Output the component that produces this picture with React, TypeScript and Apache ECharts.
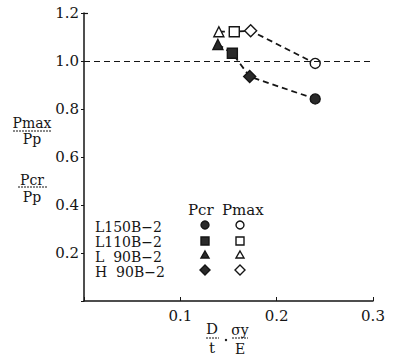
import React, { useEffect, useRef } from "react";
import * as echarts from "echarts";

const symbols = ["triangle", "rect", "diamond", "circle"];
const specimens = ["L150B−2", "L110B−2", "L  90B−2", "H  90B−2"];
const legendOrder = [3, 1, 0, 2]; // legend rows: circle, square, triangle, diamond
const xPmax = [0.14, 0.156, 0.173, 0.24];
const yPmax = [1.122, 1.122, 1.126, 0.99];
const xPcr = [0.139, 0.154, 0.172, 0.24];
const yPcr = [1.069, 1.032, 0.935, 0.842];
const yTicks = [0, 0.2, 0.4, 0.6, 0.8, 1.0, 1.2];
const xTicks = [0, 0.1, 0.2, 0.3];
const refLine = 1.0;

const FONT = "DejaVu Serif";
const INK = "#151515";

function markerGraphic(sym: string, cx: number, cy: number, filled: boolean) {
  const style = {
    fill: filled ? "#2a2a2a" : "#fff",
    stroke: INK,
    lineWidth: 1.4,
  };
  const r = 4;
  if (sym === "circle") return { type: "circle", shape: { cx, cy, r }, style };
  if (sym === "rect")
    return { type: "rect", shape: { x: cx - r, y: cy - r, width: 2 * r, height: 2 * r }, style };
  if (sym === "triangle")
    return {
      type: "polygon",
      shape: { points: [[cx, cy - r], [cx + r, cy + r - 1], [cx - r, cy + r - 1]] },
      style,
    };
  return {
    type: "polygon",
    shape: { points: [[cx, cy - r - 1], [cx + r + 1, cy], [cx, cy + r + 1], [cx - r - 1, cy]] },
    style,
  };
}

export default function App() {
  const ref = useRef<HTMLDivElement>(null);
  useEffect(() => {
    if (!ref.current) return;
    const chart = echarts.init(ref.current, null, { renderer: "svg" });

    const mk = (xs: number[], ys: number[], filled: boolean) =>
      xs.map((x, i) => ({
        value: [x, ys[i]],
        symbol: symbols[i],
        symbolSize: symbols[i] === "diamond" ? 12 : 10,
        itemStyle: { color: filled ? "#2a2a2a" : "#fff", borderColor: INK, borderWidth: 1.4 },
      }));

    const legendRowsText = [227, 242, 257, 272];
    const legendRowsMarker = [225, 241, 255, 270];
    const graphics: any[] = [];
    specimens.forEach((s, i) => {
      graphics.push({
        type: "text",
        x: 95,
        y: legendRowsText[i],
        style: {
          text: s,
          font: `14px '${FONT}'`,
          lineHeight: 13,
          fill: INK,
          verticalAlign: "middle",
        },
      });
    });
    legendOrder.forEach((si, i) => {
      graphics.push(markerGraphic(symbols[si], 205, legendRowsMarker[i], true));
      graphics.push(markerGraphic(symbols[si], 240, legendRowsMarker[i], false));
    });
    graphics.push({
      type: "text",
      x: 188,
      y: 210,
      style: { text: "Pcr", font: `15px '${FONT}'`, fill: INK, verticalAlign: "middle", lineHeight: 14 },
    });
    graphics.push({
      type: "text",
      x: 222,
      y: 210,
      style: { text: "Pmax", font: `15px '${FONT}'`, fill: INK, verticalAlign: "middle", lineHeight: 14 },
    });
    // fraction labels
    const frac = (
      num: string,
      den: string,
      cx: number,
      numY: number,
      lineY: number,
      denY: number,
      x1: number,
      x2: number,
      size = 13
    ) => [
      {
        type: "text",
        x: cx,
        y: numY,
        style: { text: num, font: `${size}px '${FONT}'`, fill: INK, align: "center", verticalAlign: "middle", lineHeight: size },
      },
      { type: "line", shape: { x1, y1: lineY, x2, y2: lineY }, style: { stroke: INK, lineWidth: 1, lineDash: [2, 1] } },
      {
        type: "text",
        x: cx,
        y: denY,
        style: { text: den, font: `${size}px '${FONT}'`, fill: INK, align: "center", verticalAlign: "middle", lineHeight: size },
      },
    ];
    graphics.push(...frac("Pmax", "Pp", 32, 123, 131, 139, 13, 52, 14));
    graphics.push(...frac("Pcr", "Pp", 32, 180, 187, 197, 18, 47, 14));
    graphics.push(...frac("D", "t", 212, 329, 338, 348, 206, 219, 15));
    graphics.push({ type: "circle", shape: { cx: 226, cy: 340, r: 1.2 }, style: { fill: INK } });
    graphics.push(...frac("σy", "E", 240, 330, 338, 349, 232, 248, 14));
    // hook at top of y-axis
    graphics.push({ type: "line", shape: { x1: 84, y1: 13.5, x2: 88, y2: 13.5 }, style: { stroke: INK, lineWidth: 1.2 } });

    chart.setOption({
      animation: false,
      backgroundColor: "#fff",
      grid: { left: 84, right: 22, top: 13, bottom: 56 },
      xAxis: {
        type: "value",
        min: xTicks[0],
        max: xTicks[xTicks.length - 1],
        interval: 0.1,
        axisLine: { lineStyle: { color: INK, width: 1.5 } },
        axisTick: { inside: true, length: 4, lineStyle: { color: INK } },
        splitLine: { show: false },
        axisLabel: {
          color: INK,
          fontFamily: FONT,
          fontSize: 15,
          margin: 7,
          formatter: (v: number) => (Math.abs(v) < 1e-9 ? "" : v.toFixed(1)),
        },
      },
      yAxis: {
        type: "value",
        min: yTicks[0],
        max: yTicks[yTicks.length - 1],
        interval: 0.2,
        axisLine: { show: true, lineStyle: { color: INK, width: 1.5 } },
        axisTick: { show: true, length: 3, lineStyle: { color: INK } },
        splitLine: { show: false },
        axisLabel: {
          color: INK,
          fontFamily: FONT,
          fontSize: 15,
          margin: 5,
          formatter: (v: number) => (Math.abs(v) < 1e-9 ? "" : v.toFixed(1)),
        },
      },
      series: [
        {
          name: "Pmax",
          type: "line",
          data: mk(xPmax, yPmax, false),
          lineStyle: { color: INK, width: 1.8, type: [6, 4] },
          z: 3,
          markLine: {
            silent: true,
            symbol: "none",
            label: { show: false },
            lineStyle: { color: INK, width: 1, type: [6, 4] },
            data: [{ yAxis: refLine }],
          },
        },
        {
          name: "Pcr",
          type: "line",
          data: mk(xPcr, yPcr, true),
          lineStyle: { color: INK, width: 1.8, type: [6, 4] },
          z: 3,
        },
      ],
      graphic: graphics,
    });
    return () => chart.dispose();
  }, []);
  return (
    <div
      ref={ref}
      style={{ position: "absolute", left: 0, top: 0, width: 395, height: 357 }}
    />
  );
}
